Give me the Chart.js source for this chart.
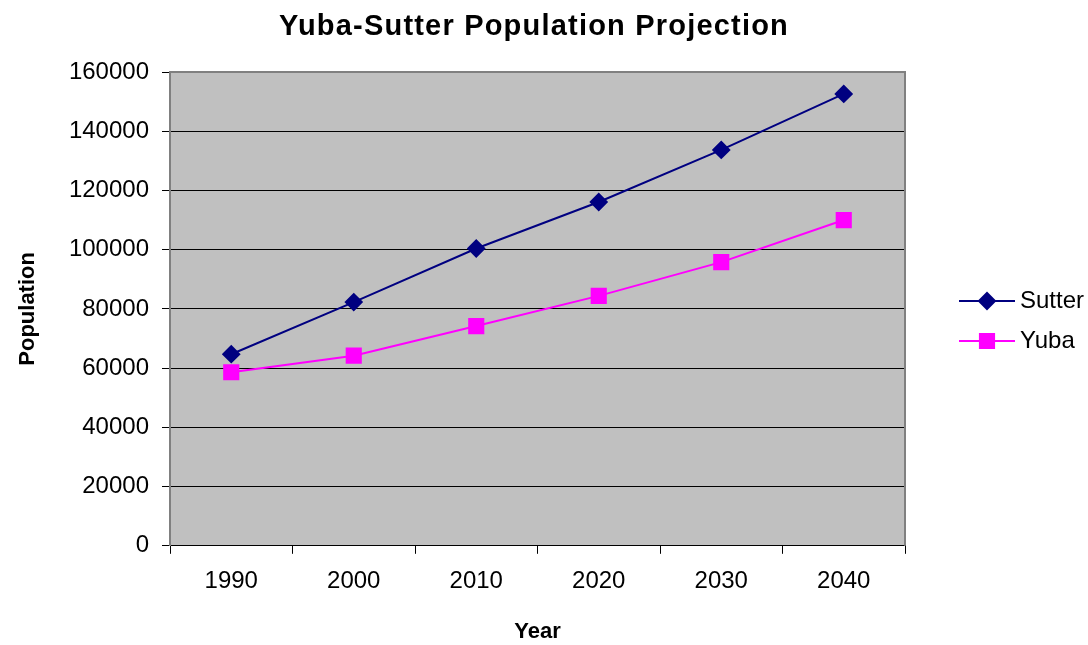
<!DOCTYPE html>
<html>
<head>
<meta charset="utf-8">
<title>Yuba-Sutter Population Projection</title>
<script src="https://cdn.jsdelivr.net/npm/chart.js@4.4.1/dist/chart.umd.min.js"></script>
<style>
  html, body { margin: 0; padding: 0; background: #fff; }
  #wrap { width: 1088px; height: 645px; }
</style>
</head>
<body>
<div id="wrap"><canvas id="popChart" width="1088" height="645"></canvas></div>
<script>
// chart data
const years = ["1990", "2000", "2010", "2020", "2030", "2040"];
const sutter = [64700, 82300, 100400, 116100, 133700, 152600];
const yuba = [58600, 64200, 74200, 84400, 95800, 110000];
const yMin = 0, yMax = 160000, yStep = 20000;
const chartTitle = "Yuba-Sutter Population Projection";

const FONT = "'Liberation Sans', Arial, Helvetica, sans-serif";

// grey plot area with border, like the old Excel chart
const plotBackground = {
    id: "plotBackground",
    beforeDraw(chart) {
        const { ctx, chartArea: a } = chart;
        ctx.save();
        ctx.fillStyle = "#C0C0C0";
        ctx.fillRect(a.left, a.top, a.right - a.left, a.bottom - a.top);
        ctx.restore();
    },
    beforeDatasetsDraw(chart) {
        const { ctx, chartArea: a } = chart;
        ctx.save();
        ctx.strokeStyle = "#808080";
        ctx.lineWidth = 2;
        ctx.beginPath();
        ctx.moveTo(a.left, a.top);
        ctx.lineTo(a.right, a.top);
        ctx.lineTo(a.right, a.bottom);
        ctx.stroke();
        ctx.restore();
    }
};

// title drawn by hand so it can be spaced out a little wider
const wideTitle = {
    id: "wideTitle",
    afterDraw(chart) {
        const ctx = chart.ctx;
        ctx.save();
        ctx.fillStyle = "#000";
        ctx.font = "bold 29px " + FONT;
        ctx.letterSpacing = "1.2px";
        ctx.textAlign = "center";
        ctx.textBaseline = "middle";
        ctx.fillText(chartTitle, 534, 27);
        ctx.restore();
    }
};

// legend on the right: short line with the marker in its middle
const sideLegend = {
    id: "sideLegend",
    afterDraw(chart) {
        const ctx = chart.ctx;
        const x0 = 959, x1 = 1015, rowY = [301, 341];
        chart.data.datasets.forEach((ds, i) => {
            const y = rowY[i];
            ctx.save();
            ctx.strokeStyle = ds.borderColor;
            ctx.lineWidth = 2;
            ctx.beginPath();
            ctx.moveTo(x0, y);
            ctx.lineTo(x1, y);
            ctx.stroke();
            ctx.fillStyle = ds.pointBackgroundColor;
            ctx.strokeStyle = ds.pointBorderColor;
            Chart.helpers.drawPoint(ctx, {
                pointStyle: ds.pointStyle,
                radius: ds.pointRadius,
                rotation: 0,
                borderWidth: 1
            }, (x0 + x1) / 2, y);
            ctx.fillStyle = "#000";
            ctx.font = "24px " + FONT;
            ctx.textAlign = "left";
            ctx.textBaseline = "middle";
            ctx.fillText(ds.label, 1020, y);
            ctx.restore();
        });
    }
};

new Chart(document.getElementById("popChart"), {
    type: "line",
    data: {
        labels: years,
        datasets: [{
            label: "Sutter",
            data: sutter,
            borderColor: "#000080",
            borderWidth: 2,
            pointStyle: "rectRot",
            pointRadius: 8,
            pointHoverRadius: 8,
            pointBackgroundColor: "#000080",
            pointBorderColor: "#000080",
            tension: 0
        }, {
            label: "Yuba",
            data: yuba,
            borderColor: "#FF00FF",
            borderWidth: 2,
            pointStyle: "rect",
            pointRadius: 10,
            pointHoverRadius: 10,
            pointBackgroundColor: "#FF00FF",
            pointBorderColor: "#FF00FF",
            tension: 0
        }]
    },
    options: {
        responsive: false,
        animation: false,
        layout: { padding: { left: 0, right: 183, top: 72, bottom: 0 } },
        plugins: {
            legend: { display: false },
            tooltip: { enabled: false },
            title: { display: false }
        },
        scales: {
            x: {
                offset: true,
                grid: {
                    offset: true,
                    drawOnChartArea: false,
                    tickLength: 8,
                    tickColor: "#000"
                },
                border: { color: "#000", width: 1 },
                ticks: {
                    color: "#000",
                    font: { family: FONT, size: 24 },
                    padding: 13,
                    maxRotation: 0
                },
                title: {
                    display: true,
                    text: "Year",
                    color: "#000",
                    font: { family: FONT, size: 22, weight: "bold" },
                    padding: { top: 10, bottom: 0 }
                }
            },
            y: {
                min: yMin,
                max: yMax,
                afterFit(scale) { scale.width = 170; },
                grid: {
                    color: ctx => (ctx.tick && ctx.tick.value === yMax) ? "#808080" : "#000",
                    tickColor: "#000",
                    tickLength: 8,
                    lineWidth: 1
                },
                border: { color: "#808080", width: 2 },
                ticks: {
                    stepSize: yStep,
                    color: "#000",
                    font: { family: FONT, size: 24 },
                    padding: 13,
                    callback: v => String(v)
                },
                title: {
                    display: true,
                    text: "Population",
                    color: "#000",
                    font: { family: FONT, size: 22, weight: "bold" },
                    padding: { top: 15, bottom: 0 }
                }
            }
        }
    },
    plugins: [plotBackground, wideTitle, sideLegend]
});
</script>
</body>
</html>
